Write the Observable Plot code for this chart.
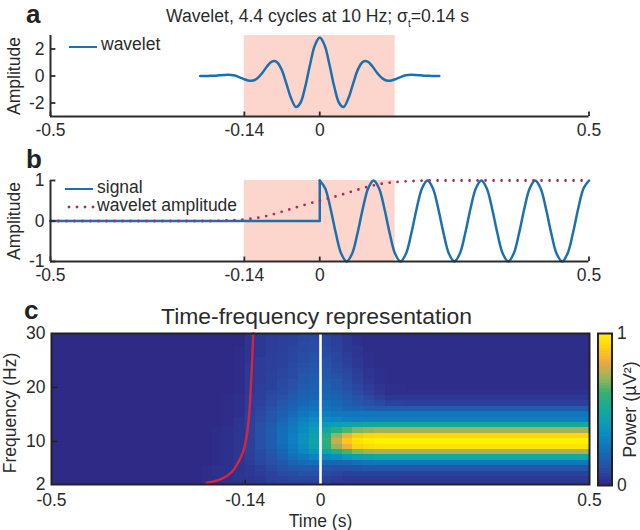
<!DOCTYPE html>
<html>
<head>
<meta charset="utf-8">
<script src="https://cdn.jsdelivr.net/npm/d3@7"></script>
<script src="https://cdn.jsdelivr.net/npm/@observablehq/plot@0.6"></script>
<style>
  html, body { margin: 0; padding: 0; background: #fff; }
  #chart { position: relative; width: 640px; height: 530px; overflow: hidden;
    font-family: "Liberation Sans", Arial, sans-serif; color: #2b2b2b; }
  #chart svg { position: absolute; left: 0; }
  .t { position: absolute; white-space: nowrap; line-height: 1; }
  .letter { font-weight: 700; font-size: 26px; color: #222; }
  .leg { font-size: 17.5px; }
  .key { position: absolute; }
  sub { font-size: 10px; line-height: 0; }
</style>
</head>
<body>
<div id="chart"></div>
<script>
const BLUE = "#1c70ad", MAGENTA = "#a82f63", RED = "#d8243f", INK = "#2b2b2b", BAND = "#fcd6cc";

// panel a: wavelet
const waveletTime = [-0.222,-0.213,-0.204,-0.196,-0.187,-0.178,-0.169,-0.16,-0.151,-0.142,-0.133,-0.124,-0.116,-0.107,-0.098,-0.089,-0.08,-0.071,-0.062,-0.053,-0.044,-0.036,-0.027,-0.018,-0.009,0,
  0.009,0.018,0.027,0.036,0.044,0.053,0.062,0.071,0.08,0.089,0.098,0.107,0.116,0.124,0.133,0.142,0.151,0.16,0.169,0.178,0.187,0.196,0.204,0.213,0.222];
const waveletValue = [0,0,0.01,0.02,0.05,0.08,0.09,0.05,-0.06,-0.21,-0.33,-0.34,-0.17,0.21,0.7,1.07,1.05,0.49,-0.56,-1.67,-2.3,-2,-0.8,0.85,2.28,2.85,
  2.28,0.85,-0.8,-2,-2.3,-1.67,-0.56,0.49,1.05,1.07,0.7,0.21,-0.17,-0.34,-0.33,-0.21,-0.06,0.05,0.09,0.08,0.05,0.02,0.01,0,0];

// panel b: signal (step onset, then oscillation) and wavelet amplitude
const onsetTime = [-0.5, 0, 0];
const onsetValue = [0, 0, 1];
const signalTime = [0,0.01,0.02,0.03,0.04,0.05,0.06,0.07,0.08,0.09,0.1,0.11,0.12,0.13,0.14,0.15,0.16,0.17,0.18,0.19,0.2,0.21,0.22,0.23,0.24,0.25,0.26,0.27,0.28,0.29,0.3,0.31,0.32,0.33,0.34,0.35,0.36,0.37,0.38,0.39,0.4,0.41,0.42,0.43,0.44,0.45,0.46,0.47,0.48,0.49,0.5];
const signalValue = [1,0.81,0.31,-0.31,-0.81,-1,-0.81,-0.31,0.31,0.81,1,0.81,0.31,-0.31,-0.81,-1,-0.81,-0.31,0.31,0.81,1,0.81,0.31,-0.31,-0.81,-1,-0.81,-0.31,0.31,0.81,1,0.81,0.31,-0.31,-0.81,-1,-0.81,-0.31,0.31,0.81,1,0.81,0.31,-0.31,-0.81,-1,-0.81,-0.31,0.31,0.81,1];
const ampTime = [-0.5,-0.2,-0.18,-0.16,-0.14,-0.12,-0.1,-0.08,-0.06,-0.04,-0.02,0,0.02,0.04,0.06,0.08,0.1,0.12,0.14,0.16,0.18,0.2,0.5];
const ampValue = [0,0,0.01,0.02,0.04,0.07,0.12,0.19,0.27,0.35,0.43,0.5,0.57,0.65,0.73,0.81,0.88,0.93,0.96,0.98,0.99,1,1];

// shaded window
const band = [{x1: -0.14, x2: 0.14}];

// panel c: power per frequency (top row 30 Hz) and time bin, in percent
const freqs = [30,29,28,27,26,25,24,23,22,21,20,19,18,17,16,15,14,13,12,11,10,9,8,7,6,5,4,3,2];
const timeEdges = [-0.5,-0.24,-0.22,-0.2,-0.18,-0.16,-0.14,-0.12,-0.1,-0.08,-0.06,-0.04,-0.02,0,0.02,0.04,0.06,0.08,0.1,0.12,0.16,0.5];
const power = [
  [0,0,0,0,0,0,3,4,5,5,6,8,8,7,5,3,2,1,1,1,1],
  [0,0,0,0,0,0,3,4,5,6,7,8,9,8,6,4,2,1,1,1,1],
  [0,0,0,0,0,0,3,4,5,6,7,9,10,8,6,4,2,1,1,1,1],
  [0,0,0,0,0,1,3,4,5,6,8,9,10,9,7,4,3,1,1,1,1],
  [0,0,0,0,0,1,3,4,6,7,8,10,11,10,8,5,3,2,1,1,1],
  [0,0,0,0,0,1,3,5,6,7,8,10,12,11,8,6,4,2,1,1,1],
  [0,0,0,0,0,1,4,5,6,7,9,11,13,12,9,7,4,2,1,1,1],
  [0,0,0,0,0,1,4,5,6,8,10,12,14,13,10,8,5,3,2,1,1],
  [0,0,0,0,0,1,4,5,7,8,10,13,15,14,11,9,6,3,2,1,1],
  [0,0,0,0,0,1,4,5,7,9,11,14,16,15,13,10,7,4,2,1,1],
  [0,0,0,0,0,1,4,6,7,9,12,15,17,17,14,11,8,5,3,2,1],
  [0,0,0,0,0,1,4,6,8,10,13,17,18,18,16,13,10,7,4,2,2],
  [0,0,0,0,1,2,5,6,9,11,15,18,20,20,18,15,12,9,6,4,4],
  [0,0,0,0,1,2,5,7,10,13,17,20,22,22,20,17,14,11,9,7,6],
  [0,0,0,0,1,2,5,8,11,15,19,23,25,24,22,20,18,16,15,15,15],
  [0,0,0,0,1,2,6,9,13,17,21,25,28,28,26,25,25,25,25,25,25],
  [0,0,0,0,1,3,6,10,14,19,24,28,32,33,31,29,28,28,28,28,28],
  [0,0,0,0,1,3,7,11,15,21,26,31,37,40,42,44,46,47,48,48,48],
  [0,0,0,1,2,3,7,11,16,22,27,33,40,48,56,63,68,70,72,72,72],
  [0,0,0,1,2,3,7,11,16,22,28,35,43,54,70,82,88,91,92,92,92],
  [0,0,0,1,2,3,7,11,16,22,28,36,45,58,76,88,95,98,100,100,100],
  [0,0,0,1,2,3,7,11,16,21,27,34,43,55,70,82,90,93,95,95,95],
  [0,0,0,1,2,3,7,10,14,19,25,31,38,45,54,62,68,71,72,72,72],
  [0,0,0,1,2,3,6,9,12,17,22,26,30,31,34,39,43,46,47,47,47],
  [0,0,0,1,2,3,5,8,11,14,18,21,22,20,19,20,23,24,25,25,25],
  [0,0,1,2,2,3,4,6,9,11,13,15,15,12,11,11,12,13,13,13,13],
  [0,0,1,2,2,3,4,5,7,9,10,11,11,9,8,7,7,7,7,7,7],
  [0,0,1,1,2,3,3,4,6,7,8,8,8,7,5,4,4,4,4,4,4],
  [0,0,1,1,2,2,3,4,5,6,6,7,7,6,4,4,3,3,3,3,3]
];
const redTime = [-0.212,-0.184,-0.165,-0.153,-0.144,-0.1375,-0.1325,-0.1295,-0.127,-0.125];
const redFreq = [2.3,3.05,4.3,6.1,8,10.8,15.1,20,25,30];

// colour map of the colour bar
const colorStops = [0,0.06,0.12,0.2,0.3,0.4,0.5,0.6,0.7,0.8,0.9,1];
const colorRange = ["#2e2a86","#2c3f9b","#2653a8","#1668b6","#0c85c4","#0a9cb8","#14ab98","#36b070","#96b55a","#eda83f","#fdd20f","#fff200"];
const colorbarLevels = d3.range(0, 100).map(d => d / 100);

const xTicks = [-0.5, -0.14, 0, 0.5];
const ampTicksA = [-2, 0, 2];
const ampTicksB = [-1, 0, 1];
const freqTicks = [2, 10, 20, 30];

const root = document.getElementById("chart");
const fmt = d => String(d);
const style = {fontFamily: '"Liberation Sans", Arial, sans-serif', fontSize: "17.5px", color: INK, background: "transparent", overflow: "visible"};
const zip = (a, b) => a.map((x, i) => ({x, y: b[i]}));
const lineOpts = (stroke, curve) => ({x: "x", y: "y", stroke, strokeWidth: 2.5, curve});

function place(svg, top) { svg.style.top = top + "px"; root.appendChild(svg); }

function linePanel(yDomain, yTicks, marks) {
  const xMin = -0.5, yMin = yDomain[0], yMax = yDomain[1];
  const xTick = (yMax - yMin) * 0.055, yTick = 0.01;
  return Plot.plot({
    width: 640, height: 145, marginLeft: 50, marginRight: 51.5, marginTop: 35, marginBottom: 29,
    style,
    x: {domain: [-0.5, 0.5]},
    y: {domain: yDomain},
    marks: [
      Plot.rect(band, {x1: "x1", x2: "x2", fill: BAND}),
      ...marks,
      Plot.ruleX(xTicks, {y1: yMin, y2: yMin + xTick, stroke: INK, strokeWidth: 1.8}),
      Plot.ruleY(yTicks, {x1: xMin, x2: xMin + yTick, stroke: INK, strokeWidth: 1.8}),
      Plot.ruleX([xMin], {stroke: INK, strokeWidth: 2}),
      Plot.ruleY([yMin], {stroke: INK, strokeWidth: 2}),
      Plot.axisX(xTicks, {tickSize: 0, tickPadding: 7, tickFormat: fmt, label: null}),
      Plot.axisY(yTicks, {tickSize: 0, tickPadding: 6, tickFormat: fmt, label: "Amplitude", labelAnchor: "center", labelArrow: "none", labelOffset: 43})
    ]
  });
}

place(linePanel([-3, 3], ampTicksA, [
  Plot.line(zip(waveletTime, waveletValue), lineOpts(BLUE, "catmull-rom"))
]), 0);

place(linePanel([-1, 1], ampTicksB, [
  Plot.line(zip(onsetTime, onsetValue), lineOpts(BLUE, "linear")),
  Plot.line(zip(signalTime, signalValue), lineOpts(BLUE, "catmull-rom")),
  Plot.line(zip(ampTime, ampValue), {...lineOpts(MAGENTA, "monotone-x"), strokeWidth: 2.8, strokeDasharray: "0 8", strokeLinecap: "round"})
]), 145);

const cells = power.flatMap((row, r) => row.map((v, c) => ({
  t1: timeEdges[c], t2: timeEdges[c + 1],
  f1: Math.max(2, freqs[r] - 0.5), f2: Math.min(30, freqs[r] + 0.5),
  v: v / 100
})));
const colorScale = {type: "linear", domain: colorStops, range: colorRange};

place(Plot.plot({
  width: 640, height: 230, marginLeft: 51, marginRight: 51, marginTop: 33, marginBottom: 46,
  style,
  x: {domain: [-0.5, 0.5]},
  y: {domain: [2, 30]},
  color: colorScale,
  marks: [
    Plot.rect(cells, {x1: "t1", x2: "t2", y1: "f1", y2: "f2", fill: "v", shapeRendering: "crispEdges"}),
    Plot.ruleX([0], {stroke: "#fff", strokeWidth: 2.6}),
    Plot.line(zip(redTime, redFreq), {...lineOpts(RED, "catmull-rom"), strokeWidth: 2.4}),
    Plot.ruleX([-0.14], {y1: 2, y2: 2.8, stroke: "#222", strokeWidth: 1.5}),
    Plot.ruleY([10, 20], {x1: -0.5, x2: -0.488, stroke: "#222", strokeWidth: 1.5}),
    Plot.frame({stroke: "#222", strokeWidth: 2}),
    Plot.axisX(xTicks, {tickSize: 0, tickPadding: 9, tickFormat: fmt, label: "Time (s)", labelAnchor: "center", labelArrow: "none", labelOffset: 42}),
    Plot.axisY(freqTicks, {tickSize: 0, tickPadding: 6, tickFormat: fmt, label: null}),
    Plot.text(["Frequency (Hz)"], {frameAnchor: "left", dx: -41, dy: 4, rotate: -90, textAnchor: "middle", fontSize: 17.5, fill: INK})
  ]
}), 300);

// colour bar
const barPlot = Plot.plot({
  width: 640, height: 230, marginLeft: 597.5, marginRight: 28.5, marginTop: 33, marginBottom: 45,
  style,
  x: {axis: null, domain: [0, 1]},
  y: {domain: [0, 1]},
  color: colorScale,
  marks: [
    Plot.rect(colorbarLevels, {y1: d => d, y2: d => d + 0.0101, fill: d => d, shapeRendering: "crispEdges"}),
    Plot.frame({stroke: "#222", strokeWidth: 2}),
    Plot.axisY([0, 1], {anchor: "right", tickSize: 0, tickPadding: 5, tickFormat: fmt, label: null}),
    Plot.text(["Power (µV²)"], {frameAnchor: "right", dx: 18, rotate: -90, textAnchor: "middle", fontSize: 18, fill: INK})
  ]
});
place(barPlot, 300);

// text set above or beside the panels
function text(html, cls, left, top, extra) {
  const d = document.createElement("div");
  d.className = "t " + cls;
  d.innerHTML = html;
  d.style.left = left + "px";
  d.style.top = top + "px";
  if (extra) Object.assign(d.style, extra);
  root.appendChild(d);
}
function key(left, top, width, css) {
  const d = document.createElement("div");
  d.className = "key";
  d.style.left = left + "px"; d.style.top = top + "px"; d.style.width = width + "px";
  Object.assign(d.style, css);
  root.appendChild(d);
}
text("a", "letter", 26, 1);
text("b", "letter", 26, 146);
text("c", "letter", 24, 297);
text("Wavelet, 4.4 cycles at 10 Hz; σ<sub>t</sub>=0.14 s", "", 166, 8, {fontSize: "17.6px"});
text("Time-frequency representation", "", 161, 305, {fontSize: "22.9px"});
text("wavelet", "leg", 101, 36);
key(69, 46, 28, {borderTop: "2.5px solid " + BLUE});
text("signal", "leg", 97, 179);
key(65, 188, 28, {borderTop: "2.5px solid " + BLUE});
text("wavelet amplitude", "leg", 97, 197);
key(65, 205, 32, {height: "4px", background: "radial-gradient(circle, " + MAGENTA + " 1.3px, transparent 1.7px) 0 0 / 8px 4px repeat-x"});
</script>
</body>
</html>
